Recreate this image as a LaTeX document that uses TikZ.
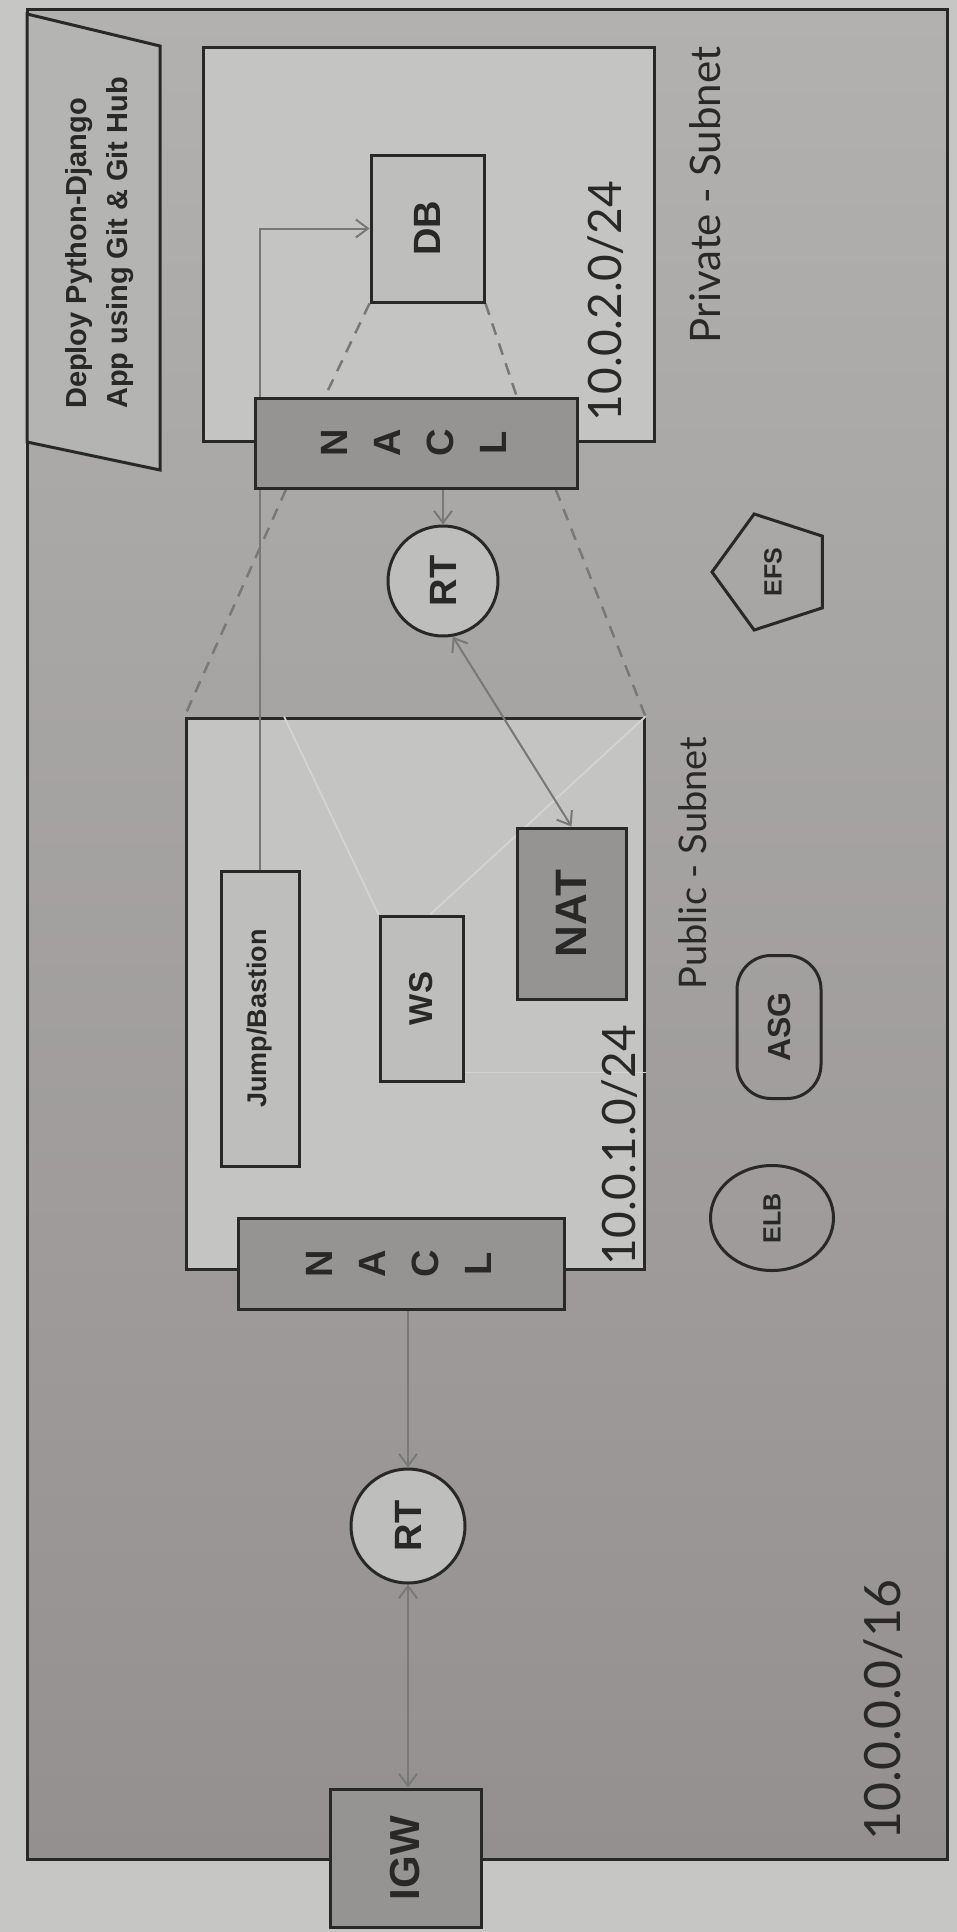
\documentclass[tikz,border=0pt]{standalone}
\usepackage{fontspec}
\setmainfont{Liberation Sans}
\newfontfamily\handfont{Lato}
\usetikzlibrary{shapes.geometric,arrows.meta,calc}

\definecolor{paper}{RGB}{198,198,196}
\definecolor{vpctop}{RGB}{178,177,176}
\definecolor{vpcbottom}{RGB}{148,144,143}
\definecolor{subnetgray}{RGB}{196,196,194}
\definecolor{boxdark}{RGB}{150,148,147}
\definecolor{boxlight}{RGB}{190,190,188}
\definecolor{titlegray}{RGB}{180,180,178}
\definecolor{inkgray}{RGB}{40,40,40}
\definecolor{wiregray}{RGB}{120,120,120}
\definecolor{ghost}{RGB}{212,212,210}

\pgfdeclarelayer{back}
\pgfdeclarelayer{wires}
\pgfsetlayers{back,wires,main}

\newcommand{\vtext}[1]{\rotatebox{90}{#1}}

\tikzset{
  frame/.style={draw=inkgray, line width=3pt},
  darkbox/.style={frame, fill=boxdark, inner sep=0pt, text=inkgray},
  lightbox/.style={frame, fill=boxlight, inner sep=0pt, text=inkgray},
  wire/.style={draw=wiregray, line width=2pt},
  zoomline/.style={draw=wiregray, line width=2.5pt, dash pattern=on 12pt off 9pt},
  faint/.style={draw=ghost, line width=1.8pt},
  label/.style={font=\fontsize{#1}{#1}\selectfont\bfseries},
  hand/.style={font=\handfont\fontsize{#1}{#1}\selectfont, inner sep=0pt, text=inkgray},
}

\begin{document}
\begin{tikzpicture}[x=1pt, y=-1pt, >={Straight Barb[length=12pt,width=18pt]}]
\useasboundingbox (0,0) rectangle (957,1932);

% paper, VPC and the two subnets
\begin{pgfonlayer}{back}
\fill[paper] (0,0) rectangle (957,1932);
\shade[top color=vpctop, bottom color=vpcbottom] (27,10) rectangle (947,1859);
\draw[frame] (27,10) rectangle (947,1859);
\node[frame, fill=subnetgray, minimum width=451pt, minimum height=393pt] (privnet) at (428.5,244.5) {};
\node[frame, fill=subnetgray, minimum width=458pt, minimum height=551pt] (pubnet) at (415,993.5) {};
\end{pgfonlayer}

\draw[frame, fill=titlegray] (27,14) -- (160,46) -- (160,470) -- (27,442) -- cycle;
\node[label=29, text=inkgray] (title) at (99,243) {\vtext{\fontsize{29}{41}\selectfont\begin{tabular}{@{}l@{}}Deploy Python-Django\\App using Git \& Git Hub\end{tabular}}};

\node[lightbox, label=38, minimum width=113pt, minimum height=147pt] (db) at (427.5,228.5) {\vtext{DB}};
\node[darkbox, label=38, minimum width=322pt, minimum height=90pt] (naclpriv) at (416,443) {\vtext{\fontsize{38}{53}\selectfont\begin{tabular}{@{}c@{}}N\\A\\C\\L\end{tabular}}};
\node[lightbox, circle, label=38, minimum size=110pt] (rtup) at (443,581) {\vtext{RT}};
\node[frame, regular polygon, regular polygon sides=5, shape border rotate=90, label=25, text=inkgray, minimum size=122pt, inner sep=0pt] (efs) at (773,572) {\vtext{EFS}};

\node[lightbox, label=27, minimum width=78pt, minimum height=295pt] (jump) at (260,1018.5) {\vtext{Jump/Bastion}};
\node[lightbox, label=33, minimum width=83pt, minimum height=165pt] (ws) at (421.5,998.5) {\vtext{WS}};
\node[darkbox, label=44, minimum width=109pt, minimum height=171pt] (nat) at (571.5,913.5) {\vtext{NAT}};
\node[darkbox, label=38, minimum width=326pt, minimum height=91pt] (naclpub) at (401,1263.5) {\vtext{\fontsize{38}{53}\selectfont\begin{tabular}{@{}c@{}}N\\A\\C\\L\end{tabular}}};

\node[frame, ellipse, label=25, text=inkgray, minimum width=123pt, minimum height=105pt, inner sep=0pt] (elb) at (772,1218) {\vtext{ELB}};
\node[frame, rounded corners=34pt, label=32, text=inkgray, minimum width=84pt, minimum height=143pt, inner sep=0pt] (asg) at (779,1027) {\vtext{ASG}};

\node[lightbox, circle, label=38, minimum size=114pt] (rtlow) at (408,1526) {\vtext{RT}};
\node[darkbox, label=42, minimum width=151pt, minimum height=138pt] (igw) at (405.5,1858) {\vtext{IGW}};

% handwritten labels
\node[hand=46] (privcidr) at (606,301) {\vtext{10.0.2.0/24}};
\node[hand=42] (privname) at (705,195) {\vtext{Private - Subnet}};
\node[hand=46] (pubcidr) at (620,1145) {\vtext{10.0.1.0/24}};
\node[hand=38] (pubname) at (693,863) {\vtext{Public - Subnet}};
\node[hand=50] (vpccidr) at (883,1710) {\vtext{10.0.0.0/16}};

\begin{pgfonlayer}{wires}
\draw[zoomline] (db.south west) -- ($(naclpriv.north west)!0.22!(naclpriv.north east)$);
\draw[zoomline] (db.south east) -- ($(naclpriv.north west)!0.81!(naclpriv.north east)$);
\draw[zoomline] ($(naclpriv.south west)!0.1!(naclpriv.south east)$) -- (pubnet.north west);
\draw[zoomline] ($(naclpriv.south west)!0.93!(naclpriv.south east)$) -- (pubnet.north east);

\draw[faint] ($(pubnet.north west)!0.216!(pubnet.north east)$) -- (ws.north west);
\draw[faint] (pubnet.north east) -- ($(ws.north west)!0.6!(ws.north east)$);
\draw[faint] ($(ws.north east)!0.94!(ws.south east)$) coordinate (wsout) -- (wsout -| pubnet.east);

\draw[wire, ->] (jump.north) |- (db.west);
\draw[wire, ->] (naclpriv.south -| rtup) -- (rtup.north);
\draw[wire, <->] (rtup.-80) -- (nat.north);
\draw[wire, ->] (naclpub.south -| rtlow) -- (rtlow.north);
\draw[wire, <->] (rtlow.south) -- (rtlow.south |- igw.north);
\end{pgfonlayer}

\end{tikzpicture}
\end{document}
